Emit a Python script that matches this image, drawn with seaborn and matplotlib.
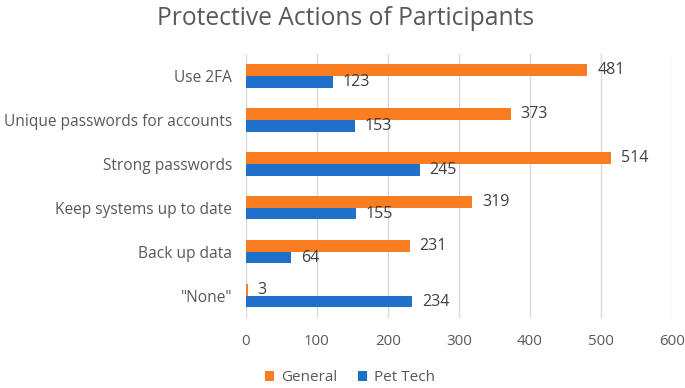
import pandas as pd
import seaborn as sns
import matplotlib.pyplot as plt

# data
actions = ['Use 2FA', 'Unique passwords for accounts', 'Strong passwords',
           'Keep systems up to date', 'Back up data', '"None"']
general = [481, 373, 514, 319, 231, 3]
pet_tech = [123, 153, 245, 155, 64, 234]

groups = ['General', 'Pet Tech']
colors = ['#FA7D22', '#1E70C8']

df = pd.concat([
    pd.DataFrame({'action': actions, 'count': general, 'group': 'General'}),
    pd.DataFrame({'action': actions, 'count': pet_tech, 'group': 'Pet Tech'})],
    ignore_index=True)

sns.set_style('white')
plt.rcParams['font.family'] = ['Open Sans', 'DejaVu Sans']
txt = '#595959'

fig = plt.figure(figsize=(6.85, 3.88), dpi=100)
ax = fig.add_axes([0.359, 0.181, 0.622, 0.68])

sns.barplot(data=df, y='action', x='count', hue='group', hue_order=groups,
            order=actions, palette=colors, orient='h', width=0.53,
            saturation=1, linewidth=0, ax=ax, legend=True)

for c in ax.containers:
    ax.bar_label(c, padding=7, fontsize=11.5, color='#404040')

ax.set_xlim(0, 600)
ax.set_xticks(range(0, 601, 100))
ax.xaxis.grid(True, color='#D9D9D9', linewidth=1)
ax.set_axisbelow(True)
sns.despine(ax=ax, left=True, bottom=True)
ax.set_xlabel('')
ax.set_ylabel('')
ax.tick_params(axis='both', length=0, colors=txt)
ax.tick_params(axis='y', pad=10, labelsize=11.2)
ax.tick_params(axis='x', pad=12, labelsize=10.8)

fig.suptitle('Protective Actions of Participants', fontsize=17.7, color=txt,
             x=0.505, y=0.985)

ax.get_legend().remove()
handles, labels = ax.get_legend_handles_labels()
leg = fig.legend(handles, labels, loc='center', bbox_to_anchor=(0.511, 0.026),
                 ncol=2, frameon=False, fontsize=11, handlelength=0.6,
                 handleheight=0.6, handletextpad=0.5, columnspacing=1.3)
for t in leg.get_texts():
    t.set_color(txt)

fig.savefig('out.png', dpi=100)
